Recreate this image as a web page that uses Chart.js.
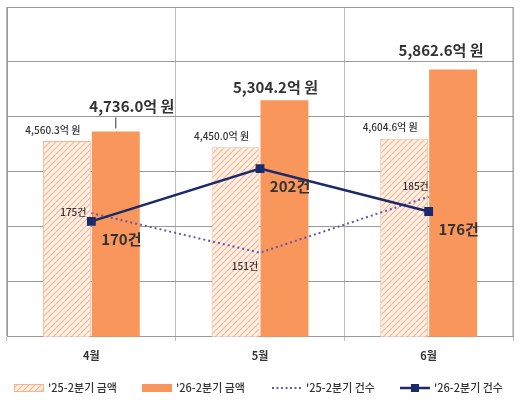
<!DOCTYPE html>
<html><head><meta charset="utf-8">
<script src="https://cdn.jsdelivr.net/npm/chart.js@4"></script>
<style>body{margin:0;background:#fff}#wrap{width:520px;height:400px}</style>
</head><body><div id="wrap"><canvas id="c"></canvas></div>
<script>
// 데이터
const meses = ["4월", "5월", "6월"];
const valor25 = [4560.3, 4450.0, 4604.6];
const valor26 = [4736.0, 5304.2, 5862.6];
const casos25 = [175, 151, 185];
const casos26 = [170, 202, 176];
const nomes = ["'25-2분기 금액", "'26-2분기 금액", "'25-2분기 건수", "'26-2분기 건수"];

const FONTE = "'Noto Sans CJK KR', 'Noto Sans', sans-serif";
const LARANJA = "#F9965C";
const AZUL = "#1B2A6B";
const ROXO = "#6A56A8";

// padrão hachurado
function hachura() {
    const p = document.createElement("canvas");
    p.width = 6; p.height = 6;
    const g = p.getContext("2d");
    g.fillStyle = "#FFF1E8"; g.fillRect(0, 0, 6, 6);
    g.strokeStyle = "#F7B58E"; g.lineWidth = 1.2;
    g.beginPath(); g.moveTo(0, 6); g.lineTo(6, 0); g.moveTo(-3, 3); g.lineTo(3, -3); g.moveTo(3, 9); g.lineTo(9, 3); g.stroke();
    return g.createPattern(p, "repeat");
}
const padrao = hachura();

const fmt = v => v.toLocaleString("en-US", { minimumFractionDigits: 1, maximumFractionDigits: 1 }) + "억 원";

// rótulos e legenda
const rotulos = {
    id: "rotulos",
    afterDatasetsDraw(chart) {
        const ctx = chart.ctx;
        ctx.save();
        ctx.textAlign = "center"; ctx.textBaseline = "middle";
        // barras '25
        chart.getDatasetMeta(0).data.forEach((b, i) => {
            ctx.font = "500 10px " + FONTE; ctx.fillStyle = "#333";
            ctx.fillText(fmt(valor25[i]), b.x - 14, b.y - 11);
        });
        // barras '26
        const dy26 = [-25, -13, -19], dx26 = [16, -9, -12];
        chart.getDatasetMeta(1).data.forEach((b, i) => {
            ctx.font = "bold 15px " + FONTE; ctx.fillStyle = "#333";
            ctx.fillText(fmt(valor26[i]), b.x + dx26[i], b.y + dy26[i]);
            if (i === 0) {
                ctx.strokeStyle = "#333"; ctx.lineWidth = 1;
                ctx.beginPath(); ctx.moveTo(b.x, b.y - 14); ctx.lineTo(b.x, b.y - 3); ctx.stroke();
            }
        });
        // linha '25
        const off25 = [[-18, -1], [-15, 14], [-13, -10]];
        chart.getDatasetMeta(2).data.forEach((p, i) => {
            ctx.font = "500 10px " + FONTE; ctx.fillStyle = "#333";
            ctx.fillText(casos25[i] + "건", p.x + off25[i][0], p.y + off25[i][1]);
        });
        // linha '26
        chart.getDatasetMeta(3).data.forEach((p, i) => {
            ctx.font = "bold 15px " + FONTE; ctx.fillStyle = "#333";
            ctx.fillText(casos26[i] + "건", p.x + 30, p.y + 18);
        });
        ctx.restore();
    },
    afterDraw(chart) {
        const ctx = chart.ctx;
        const y = 388;
        const xs = [14, 142, 272, 400];
        ctx.save();
        ctx.font = "500 11px " + FONTE; ctx.fillStyle = "#333";
        ctx.textBaseline = "middle"; ctx.textAlign = "left";
        xs.forEach((x, i) => {
            if (i === 0) {
                ctx.fillStyle = padrao; ctx.fillRect(x, y - 4, 30, 8);
                ctx.strokeStyle = "#F7B58E"; ctx.strokeRect(x + 0.5, y - 3.5, 29, 7);
            } else if (i === 1) {
                ctx.fillStyle = LARANJA; ctx.fillRect(x, y - 4, 30, 8);
            } else if (i === 2) {
                ctx.strokeStyle = ROXO; ctx.lineWidth = 2; ctx.setLineDash([2, 2.5]);
                ctx.beginPath(); ctx.moveTo(x, y); ctx.lineTo(x + 30, y); ctx.stroke();
                ctx.setLineDash([]);
            } else {
                ctx.strokeStyle = AZUL; ctx.lineWidth = 2.5;
                ctx.beginPath(); ctx.moveTo(x, y); ctx.lineTo(x + 30, y); ctx.stroke();
                ctx.fillStyle = AZUL; ctx.fillRect(x + 11, y - 4, 8, 8);
            }
            ctx.fillStyle = "#333";
            ctx.fillText(nomes[i], x + 34, y);
        });
        ctx.restore();
    }
};

new Chart(document.getElementById("c"), {
    data: {
        labels: meses,
        datasets: [
            { type: "bar", label: nomes[0], data: valor25, backgroundColor: padrao, borderColor: "#F7B58E", borderWidth: 1, yAxisID: "y", order: 3, categoryPercentage: 0.58, barPercentage: 0.98 },
            { type: "bar", label: nomes[1], data: valor26, backgroundColor: LARANJA, yAxisID: "y", order: 3, categoryPercentage: 0.58, barPercentage: 0.98 },
            { type: "line", label: nomes[2], data: casos25, borderColor: ROXO, borderDash: [2, 3], borderWidth: 2, pointRadius: 0, yAxisID: "y2", order: 2 },
            { type: "line", label: nomes[3], data: casos26, borderColor: AZUL, backgroundColor: AZUL, borderWidth: 2.5, pointStyle: "rect", pointRadius: 4.5, yAxisID: "y2", order: 1 }
        ]
    },
    options: {
        responsive: true, maintainAspectRatio: false, animation: false,
        layout: { padding: { top: 4, left: 6, right: 6, bottom: 30 } },
        plugins: { legend: { display: false }, tooltip: { enabled: false } },
        scales: {
            x: {
                grid: { color: "#BBB", offset: true, drawTicks: true, tickLength: 4 },
                border: { color: "#999" },
                ticks: { color: "#333", font: { family: FONTE, size: 11, weight: "bold" }, padding: 8 }
            },
            y: {
                min: 1000, max: 7000,
                ticks: { stepSize: 1000, display: false },
                grid: { color: "#999", drawTicks: false },
                border: { display: true, color: "#999" }
            },
            y2: { min: 100, max: 300, display: false }
        }
    },
    plugins: [rotulos, {
        id: "borda",
        afterDraw(chart) {
            const a = chart.chartArea, ctx = chart.ctx;
            ctx.save(); ctx.strokeStyle = "#999"; ctx.lineWidth = 1;
            ctx.beginPath(); ctx.moveTo(a.right, a.top); ctx.lineTo(a.right, a.bottom); ctx.stroke();
            ctx.restore();
        }
    }]
});
</script></body></html>
